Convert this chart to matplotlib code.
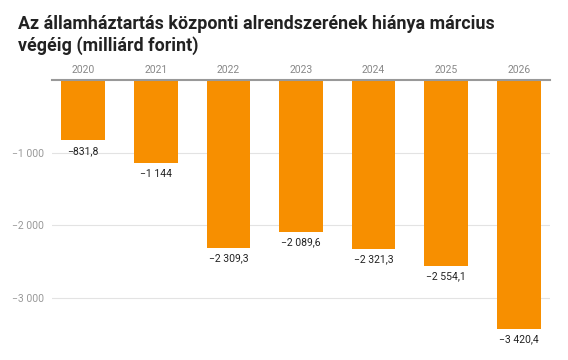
import matplotlib
matplotlib.use("Agg")
import matplotlib.pyplot as plt

plt.rcParams['font.family'] = ['Roboto', 'DejaVu Sans']

years = ["2020", "2021", "2022", "2023", "2024", "2025", "2026"]
values = [-831.8, -1144, -2309.3, -2089.6, -2321.3, -2554.1, -3420.4]
labels = ["−831,8", "−1 144", "−2 309,3", "−2 089,6", "−2 321,3", "−2 554,1", "−3 420,4"]
yticks = [-1000, -2000, -3000]
ytick_labels = ["−1 000", "−2 000", "−3 000"]
title_lines = ["Az államháztartás központi alrendszerének hiánya március",
               "végéig (milliárd forint)"]

fig = plt.figure(figsize=(5.68, 3.6), dpi=100)
ax = fig.add_axes([52/568, 1-349/360, (550-52)/568, (349-80)/360])

x = list(range(len(years)))
ax.bar(x, values, width=0.6, color="#F78F00", zorder=3)
for xi, v, lab in zip(x, values, labels):
    ax.annotate(lab, (xi, v), xytext=(0, -4), textcoords="offset points",
                ha="center", va="top", fontsize=7.5, color="#222222")

ax.set_ylim(-3700, 0)
ax.set_xlim(-0.43, 6.43)
ax.set_yticks(yticks)
ax.set_yticklabels(ytick_labels)
ax.tick_params(axis='y', length=0, labelsize=7.5, labelcolor="#999999", pad=6)
ax.xaxis.tick_top()
ax.set_xticks(x)
ax.set_xticklabels(years)
ax.tick_params(axis='x', length=0, labelsize=7.5, labelcolor="#888888", pad=3.5)
ax.grid(axis='y', color="#E3E3E3", linewidth=0.8, zorder=0)
for s in ["left", "right", "bottom"]:
    ax.spines[s].set_visible(False)
ax.spines["top"].set_color("#999999")
ax.spines["top"].set_linewidth(1.5)
ax.spines["top"].set_zorder(4)

for i, line in enumerate(title_lines):
    fig.text(18/568, 1-(29+22*i)/360, line, ha="left", va="baseline", fontsize=12.9,
             fontweight="bold", color="#222222")

fig.savefig("out.png", dpi=100)
